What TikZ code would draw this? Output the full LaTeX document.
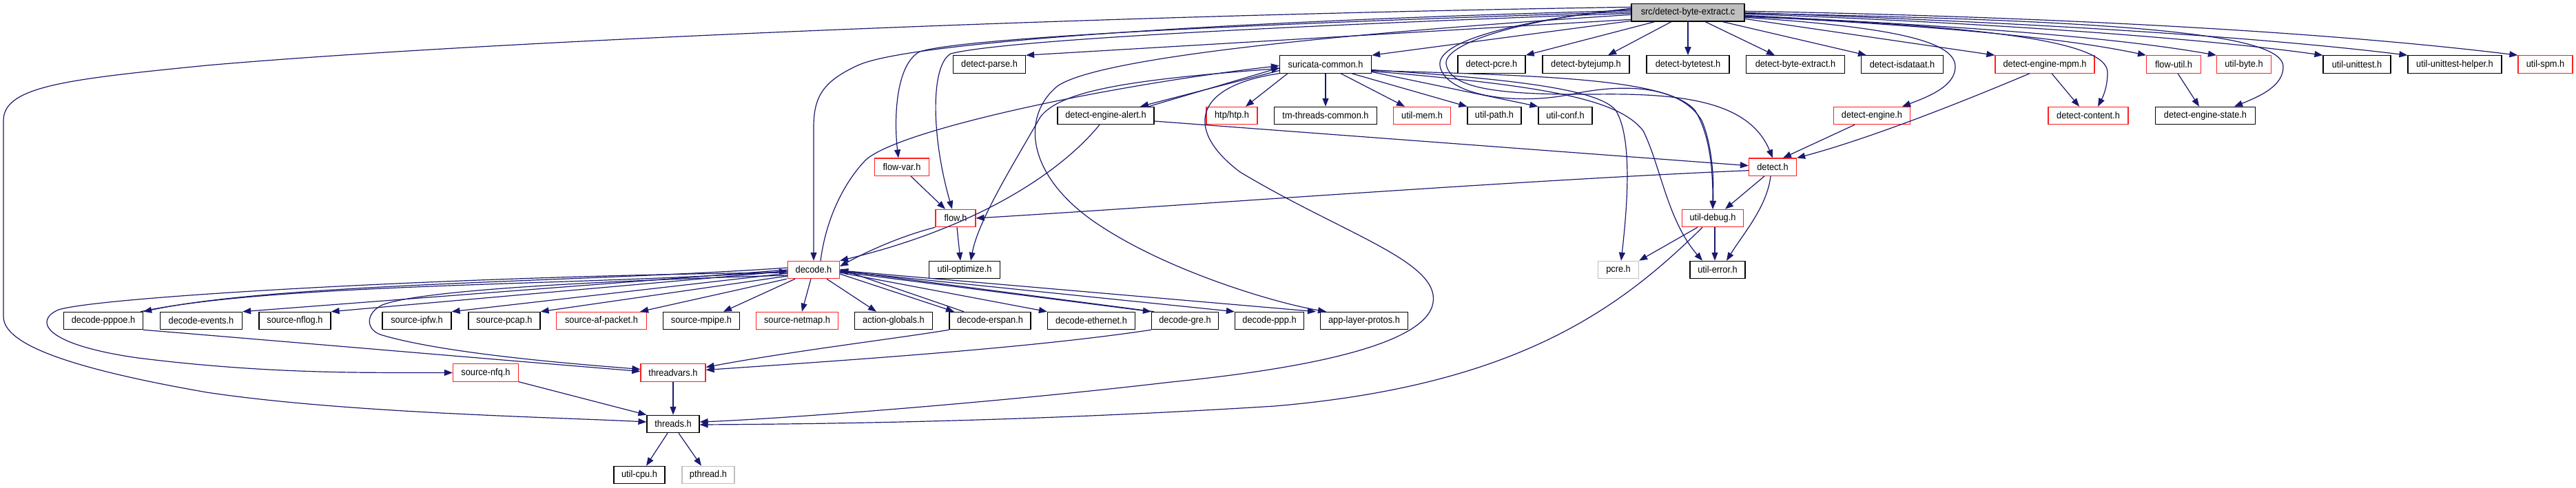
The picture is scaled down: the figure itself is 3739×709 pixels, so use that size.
\documentclass[tikz,border=0pt]{standalone}
\usepackage{fontspec}
\newfontfamily\dfont{Liberation Sans}[FakeStretch=0.92]
\usetikzlibrary{arrows.meta}
\definecolor{edgeblue}{HTML}{191970}
\definecolor{boxred}{HTML}{FF2020}
\definecolor{boxgray}{HTML}{BFBFBF}
\tikzset{
 nb/.style={draw=black, line width=1.2pt, rectangle, minimum height=25.3pt, inner sep=0pt, font=\dfont\fontsize{13.9}{16}\selectfont, text=black, fill=white},
 nr/.style={nb, draw=boxred},
 ng/.style={nb, draw=boxgray},
 nm/.style={nb, fill=boxgray},
 e/.style={draw=edgeblue, line width=1.2pt, -{Triangle[length=12pt,width=9pt]}}
}
\begin{document}
\begin{tikzpicture}[x=1pt,y=-1pt]
\useasboundingbox (0,0) rectangle (3739,709);
% nodes
\node[nm, minimum width=164pt] (M) at (2450,18.3) {src/detect-byte-extract.c};
% row 1
\node[nb, minimum width=105pt] (dp) at (1436,93.5) {detect-parse.h};
\node[nb, minimum width=133pt] (sc) at (1924,93.5) {suricata-common.h};
\node[nb, minimum width=98pt] (dpc) at (2165,93.5) {detect-pcre.h};
\node[nb, minimum width=126pt] (dbj) at (2302,93.5) {detect-bytejump.h};
\node[nb, minimum width=120pt] (dbt) at (2450,93.5) {detect-bytetest.h};
\node[nb, minimum width=143pt] (dbeh) at (2606,93.5) {detect-byte-extract.h};
\node[nb, minimum width=119pt] (dis) at (2761,93.5) {detect-isdataat.h};
\node[nr, minimum width=144pt] (dem) at (2968,93.5) {detect-engine-mpm.h};
\node[nr, minimum width=79pt] (fu) at (3155,93.5) {flow-util.h};
\node[nr, minimum width=79pt] (ub) at (3257,93.5) {util-byte.h};
\node[nb, minimum width=98pt] (uu) at (3421,93.5) {util-unittest.h};
\node[nb, minimum width=136pt] (uuh) at (3563,93.5) {util-unittest-helper.h};
\node[nr, minimum width=79pt] (us) at (3694.5,93.5) {util-spm.h};
% row 2
\node[nb, minimum width=140pt] (dea) at (1605,168) {detect-engine-alert.h};
\node[nr, minimum width=74pt] (htp) at (1788,168) {htp/htp.h};
\node[nb, minimum width=149pt] (tm) at (1924,168) {tm-threads-common.h};
\node[nr, minimum width=83pt] (um) at (2064,168) {util-mem.h};
\node[nb, minimum width=78pt] (up) at (2169,168) {util-path.h};
\node[nb, minimum width=78pt] (uc) at (2272,168) {util-conf.h};
\node[nr, minimum width=111pt] (de) at (2717,168) {detect-engine.h};
\node[nr, minimum width=116pt] (dc) at (3031,168) {detect-content.h};
\node[nb, minimum width=145pt] (des) at (3201,168) {detect-engine-state.h};
% row 3
\node[nr, minimum width=79pt] (fv) at (1309,242.7) {flow-var.h};
\node[nr, minimum width=69pt] (det) at (2573,242.7) {detect.h};
% row 4
\node[nr, minimum width=58pt] (fl) at (1387,317) {flow.h};
\node[nr, minimum width=89pt] (ud) at (2486,317) {util-debug.h};
% row 5
\node[nr, minimum width=75pt] (dec) at (1181,392) {decode.h};
\node[nb, minimum width=103pt] (uo) at (1400,392) {util-optimize.h};
\node[ng, minimum width=59pt] (pc) at (2349,392) {pcre.h};
\node[nb, minimum width=80pt] (ue) at (2493,392) {util-error.h};
% row 6
\node[nb, minimum width=115pt] (dpp) at (150,466) {decode-pppoe.h};
\node[nb, minimum width=119pt] (dev) at (292,466) {decode-events.h};
\node[nb, minimum width=104pt] (snl) at (428,466) {source-nflog.h};
\node[nb, minimum width=100pt] (sip) at (605,466) {source-ipfw.h};
\node[nb, minimum width=104pt] (spc) at (732,466) {source-pcap.h};
\node[nr, minimum width=131pt] (saf) at (873,466) {source-af-packet.h};
\node[nb, minimum width=111pt] (smp) at (1018,466) {source-mpipe.h};
\node[nr, minimum width=119pt] (snm) at (1157,466) {source-netmap.h};
\node[nb, minimum width=113pt] (ag) at (1297,466) {action-globals.h};
\node[nb, minimum width=118pt] (der) at (1437,466) {decode-erspan.h};
\node[nb, minimum width=127pt] (deth) at (1584,466) {decode-ethernet.h};
\node[nb, minimum width=97pt] (dg) at (1720,466) {decode-gre.h};
\node[nb, minimum width=100pt] (dppp) at (1842.5,466) {decode-ppp.h};
\node[nb, minimum width=127pt] (alp) at (1980,466) {app-layer-protos.h};
% row 7-9
\node[nr, minimum width=95pt] (snq) at (705,541.5) {source-nfq.h};
\node[nr, minimum width=94pt] (tv) at (977,541.5) {threadvars.h};
\node[nb, minimum width=76pt] (th) at (977,616) {threads.h};
\node[nb, minimum width=74pt] (cpu) at (928,690) {util-cpu.h};
\node[ng, minimum width=76pt] (pt) at (1028,690) {pthread.h};

% ---- edges from main file
\draw[e] ([yshift=-10pt]M.west) -- (dp.north east);
\draw[e] ([yshift=-12pt]M.west) -- (sc.north east);
\draw[e] ([xshift=-48pt]M.south) -- (dpc.north east);
\draw[e] ([xshift=-24pt]M.south) -- ([xshift=32pt]dbj.north);
\draw[e] (M.south) -- (dbt.north);
\draw[e] ([xshift=25pt]M.south) -- ([xshift=-30pt]dbeh.north);
\draw[e] ([xshift=50pt]M.south) -- ([xshift=-52pt]dis.north);
\draw[e] ([yshift=-9pt]M.east) -- (dem.north west);
\draw[e] ([yshift=-7pt]M.east) .. controls (2760,40) and (2838,62) .. (2838,97) .. controls (2838,125) and (2800,140) .. ([xshift=44pt]de.north);
\draw[e] ([yshift=-6pt]M.east) .. controls (2900,38) and (3058,62) .. (3059,105) .. controls (3059,130) and (3050,145) .. ([xshift=14pt]dc.north);
\draw[e] ([yshift=-5pt]M.east) .. controls +(-3:200pt) and +(168:150pt) .. (fu.north west);
\draw[e] ([yshift=-4pt]M.east) .. controls +(-3:250pt) and +(170:180pt) .. (ub.north west);
\draw[e] ([yshift=-1pt]M.east) .. controls (3100,30) and (3314,50) .. (3314,97) .. controls (3314,125) and (3280,140) .. ([xshift=42pt]des.north);
\draw[e] ([yshift=-2pt]M.east) .. controls +(-2:300pt) and +(172:200pt) .. (uu.north west);
\draw[e] ([yshift=0pt]M.east) .. controls +(-2:350pt) and +(173:250pt) .. (uuh.north west);
\draw[e] ([yshift=2pt]M.east) .. controls +(-1:400pt) and +(173:300pt) .. (us.north west);
\draw[e] ([yshift=8pt]M.west) .. controls (1600,22) and (700,60) .. (300,95) .. controls (100,115) and (5,125) .. (5,175) -- (5,460) .. controls (5,500) and (100,535) .. (300,570) .. controls (500,600) and (800,606) .. ([yshift=3pt]th.west);
\draw[e] ([yshift=3pt]M.west) .. controls (1800,30) and (1320,60) .. (1245,95) .. controls (1195,118) and (1181,140) .. (1181,185) -- (dec.north);
\draw[e] ([yshift=1pt]M.west) .. controls (1800,35) and (1400,55) .. (1335,75) .. controls (1298,95) and (1298,180) .. ([xshift=-5pt]fv.north);
\draw[e] ([yshift=-1pt]M.west) .. controls (1800,40) and (1450,60) .. (1380,78) .. controls (1350,95) and (1352,200) .. ([xshift=-5pt]fl.north);
\draw[e] ([yshift=5pt]M.west) .. controls (2200,28) and (2095,65) .. (2099,93) .. controls (2105,130) and (2180,138) .. (2316,137) .. controls (2450,135) and (2540,150) .. (det.north);
\draw[e] ([yshift=6pt]M.west) .. controls (2200,30) and (2085,60) .. (2090,95) .. controls (2095,135) and (2190,155) .. (2281,137) .. controls (2360,120) and (2440,125) .. (2470,175) .. controls (2485,210) and (2488,260) .. (ud.north);
\draw[e] ([yshift=-3pt]M.west) .. controls (2000,45) and (1600,80) .. (1535,125) .. controls (1480,170) and (1490,260) .. (1600,330) .. controls (1700,395) and (1850,440) .. ([xshift=-55pt]alp.north);

% ---- suricata-common.h
\draw[e] ([xshift=-55pt]sc.south) -- ([xshift=20pt]htp.north);
\draw[e] (sc.south) -- (tm.north);
\draw[e] ([xshift=22pt]sc.south) -- ([xshift=-25pt]um.north);
\draw[e] ([xshift=38pt]sc.south) -- (up.north west);
\draw[e] ([yshift=-11pt]sc.east) -- (uc.north west);
\draw[e] ([yshift=-8pt]sc.east) .. controls (2200,115) and (2320,130) .. (2345,160) .. controls (2370,200) and (2362,300) .. ([xshift=4pt]pc.north);
\draw[e] ([yshift=-10pt]sc.east) .. controls (2250,125) and (2350,145) .. (2385,190) .. controls (2410,240) and (2420,320) .. ([xshift=-22pt]ue.north);
\draw[e] ([yshift=-9pt]sc.east) .. controls (2250,110) and (2420,115) .. (2460,160) .. controls (2485,200) and (2486,260) .. (ud.north);
\draw[e] (sc.south west) .. controls (1730,125) and (1720,190) .. (1800,250) .. controls (1950,340) and (2090,380) .. (2080,440) .. controls (2070,500) and (1900,535) .. (1700,555) .. controls (1400,590) and (1100,610) .. ([yshift=3pt]th.east);
\draw[e] ([yshift=-6pt]sc.west) .. controls (1650,115) and (1540,130) .. (1510,170) .. controls (1470,240) and (1420,320) .. ([xshift=9pt]uo.north);
\draw[e] ([yshift=-9pt]sc.west) -- ([xshift=50pt]dea.north);
\draw[e] ([xshift=62pt]dea.north) -- ([yshift=-5pt]sc.west);

% ---- decode.h -> suricata-common.h
\draw[e] ([xshift=10pt]dec.north) .. controls (1200,310) and (1230,260) .. (1256,233) .. controls (1300,190) and (1600,125) .. ([yshift=-2pt]sc.west);

% ---- detect-engine-alert.h
\draw[e] ([yshift=-8pt]dea.east) -- ([yshift=2pt]det.west);
\draw[e] ([xshift=-9pt]dea.south) .. controls (1540,250) and (1420,330) .. (dec.north east);

% ---- flow
\draw[e] (fl.south west) .. controls (1300,345) and (1250,370) .. ([yshift=5pt]dec.east);
\draw[e] ([xshift=2pt]fl.south) -- ([xshift=-6pt]uo.north);
\draw[e] ([xshift=13pt]fv.south) -- ([xshift=-15pt]fl.north);

% ---- detect.h
\draw[e] ([yshift=-5pt]det.west) .. controls (2200,262) and (1700,300) .. (fl.east);
\draw[e] ([xshift=-12pt]det.south) -- ([xshift=18pt]ud.north);
\draw[e] ([xshift=-3pt]det.south) .. controls (2565,300) and (2530,340) .. ([xshift=13pt]ue.north);
\draw[e] ([xshift=-25pt]de.south) -- ([xshift=15pt]det.north);
\draw[e] ([xshift=-22pt]dem.south) .. controls (2820,160) and (2700,205) .. (det.north east);
\draw[e] ([xshift=10pt]dem.south) -- ([xshift=-13pt]dc.north);
\draw[e] ([xshift=6pt]fu.south) -- ([xshift=-9pt]des.north);

% ---- util-debug.h
\draw[e] ([xshift=-22pt]ud.south) -- (pc.north east);
\draw[e] ([xshift=3pt]ud.south) -- ([xshift=-4pt]ue.north);
\draw[e] ([xshift=-15pt]ud.south) .. controls (2350,450) and (2200,560) .. (1850,590) .. controls (1500,612) and (1200,616) .. ([yshift=-1pt]th.east);

% ---- decode.h fan-out
\draw[e] ([yshift=3pt]dec.west) .. controls +(184:300pt) and +(12:200pt) .. (dpp.north east);
\draw[e] ([xshift=-4pt]dpp.north east) .. controls +(12:200pt) and +(184:300pt) .. ([yshift=-2pt]dec.west);
\draw[e] ([yshift=0pt]dec.west) -- (dev.north east);
\draw[e] ([yshift=-2pt]dec.west) -- (snl.north east);
\draw[e] ([yshift=-5pt]dec.west) -- (sip.north east);
\draw[e] ([yshift=-9pt]dec.west) -- (spc.north east);
\draw[e] ([xshift=-1pt]dec.south west) -- ([xshift=-10pt]saf.north east);
\draw[e] ([xshift=-27pt]dec.south) -- ([xshift=32pt]smp.north);
\draw[e] ([xshift=-4pt]dec.south) -- ([xshift=7pt]snm.north);
\draw[e] ([xshift=19pt]dec.south) -- ([xshift=-25pt]ag.north);
\draw[e] ([yshift=-6pt]dec.east) -- ([xshift=-52pt]der.north);
\draw[e] ([xshift=-38pt]der.north) -- ([yshift=1pt]dec.east);
\draw[e] ([yshift=-4pt]dec.east) -- (deth.north west);
\draw[e] ([yshift=-3pt]dec.east) -- (dg.north west);
\draw[e] ([xshift=-45pt]dg.north) -- ([yshift=-1pt]dec.east);
\draw[e] ([yshift=-2pt]dec.east) -- (dppp.north west);
\draw[e] ([yshift=-1pt]dec.east) -- ([xshift=-70pt]alp.north);
\draw[e] ([yshift=-8pt]dec.west) .. controls (800,410) and (600,425) .. (555,443) .. controls (530,455) and (530,480) .. (555,487) .. controls (650,515) and (850,530) .. ([yshift=5pt]tv.west);
\draw[e] ([yshift=-4pt]dec.west) .. controls (700,400) and (150,430) .. (85,450) .. controls (50,465) and (60,500) .. (200,520) .. controls (400,545) and (550,541) .. (snq.west);

% ---- threadvars / threads
\draw[e] (dpp.south east) .. controls (400,495) and (750,525) .. ([yshift=2pt]tv.west);
\draw[e] (der.south west) .. controls (1300,492) and (1150,510) .. ([yshift=8pt]tv.east);
\draw[e] (dg.south west) .. controls (1500,505) and (1250,522) .. ([yshift=4pt]tv.east);
\draw[e] (snq.south east) -- (th.north west);
\draw[e] (tv.south) -- (th.north);
\draw[e] ([xshift=-8pt]th.south) -- ([xshift=10pt]cpu.north);
\draw[e] ([xshift=8pt]th.south) -- ([xshift=-10pt]pt.north);
\end{tikzpicture}
\end{document}
